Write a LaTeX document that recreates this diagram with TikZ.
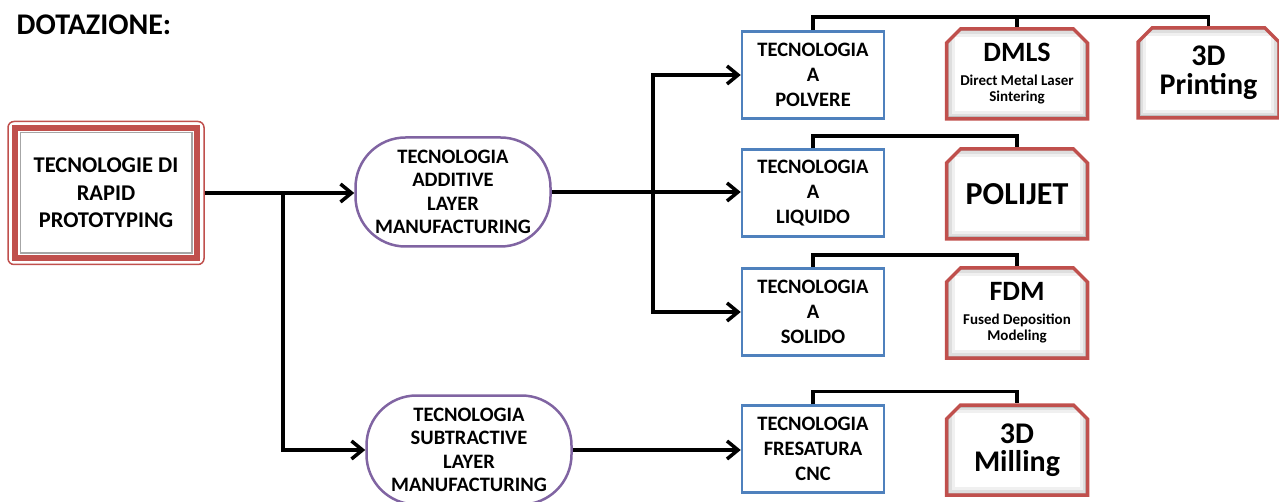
\documentclass[tikz,border=0pt]{standalone}
\usepackage{fontspec}
\setmainfont{Carlito}
\usetikzlibrary{arrows.meta, shapes.misc}
\definecolor{frameRed}{HTML}{C0504D}
\definecolor{frameBlue}{HTML}{4F81BD}
\definecolor{framePurple}{HTML}{8064A2}

\begin{document}
\begin{tikzpicture}[
    x=1pt, y=-1pt,
    every node/.style={font=\bfseries, align=center},
    rootbox/.style={draw=frameRed, line width=1.5pt, rounded corners=6pt, fill=white,
      minimum width=196pt, minimum height=143pt, inner sep=0pt,
      font=\bfseries\fontsize{22.5}{27.5}\selectfont},
    layerbox/.style={draw=framePurple, line width=2.5pt, fill=white, rounded corners=50pt,
      minimum width=195pt, minimum height=109pt, inner sep=0pt,
      font=\bfseries\fontsize{20.5}{23.5}\selectfont},
    techbox/.style={draw=frameBlue, line width=2.5pt, fill=white,
      minimum width=142pt, minimum height=87pt, inner sep=0pt,
      font=\bfseries\fontsize{20.5}{25}\selectfont},
    machbox/.style={chamfered rectangle, chamfered rectangle corners={north west, north east},
      chamfered rectangle xsep=7pt, chamfered rectangle ysep=7pt,
      draw=frameRed, line width=3.5pt, fill=white,
      minimum width=141pt, minimum height=90pt, inner sep=0pt,
      font=\bfseries\fontsize{15}{16}\selectfont,
      path picture={
        \foreach \w/\g in {16/6, 10/13, 5/25}
          \draw[black!\g, line width=\w pt] (path picture bounding box.north west)
            rectangle (path picture bounding box.south east);
      }},
    link/.style={line width=3.5pt},
    >={Straight Barb[length=11pt, width=18pt]}
  ]
  \useasboundingbox (0,0) rectangle (1279,502);

  % ── Title ───────────────────────────────────────────────────────────────
  \node[font=\bfseries\fontsize{30}{32}\selectfont] (title) at (94,25) {DOTAZIONE:};

  % ── Root ────────────────────────────────────────────────────────────────
  \node[rootbox] (root) at (106,193) {TECNOLOGIE DI\\RAPID\\PROTOTYPING};
  \draw[frameRed, line width=6pt] ([shift={(8,7)}]root.north west)
    rectangle ([shift={(-8,-7)}]root.south east);
  \draw[black!35, line width=1.5pt] ([shift={(13,12)}]root.north west)
    rectangle ([shift={(-13,-12)}]root.south east);

  % ── Layer technologies ──────────────────────────────────────────────────
  \node[layerbox] (alm) at (453,192) {TECNOLOGIA\\ADDITIVE\\LAYER\\MANUFACTURING};
  \node[layerbox, minimum width=205pt] (slm) at (469,450)
    {TECNOLOGIA\\SUBTRACTIVE\\LAYER\\MANUFACTURING};

  % ── Material families ───────────────────────────────────────────────────
  \node[techbox] (polvere)   at (813,75)  {TECNOLOGIA\\A\\POLVERE};
  \node[techbox] (liquido)   at (813,193) {TECNOLOGIA\\A\\LIQUIDO};
  \node[techbox] (solido)    at (813,312) {TECNOLOGIA\\A\\SOLIDO};
  \node[techbox] (fresatura) at (813,449) {TECNOLOGIA\\FRESATURA\\CNC};

  % ── Machines ────────────────────────────────────────────────────────────
  \node[machbox] (dmls) at (1017,74)
    {{\fontsize{28}{28}\selectfont DMLS}\\[8pt]Direct Metal Laser\\Sintering};
  \node[machbox, font=\bfseries\fontsize{30}{29}\selectfont] (printing) at (1208.5,73)
    {3D\\Printing};
  \node[machbox, font=\bfseries\fontsize{32}{32}\selectfont] (polijet) at (1017,194) {POLIJET};
  \node[machbox] (fdm) at (1017,313)
    {{\fontsize{28}{28}\selectfont FDM}\\[8pt]Fused Deposition\\Modeling};
  \node[machbox, font=\bfseries\fontsize{30}{28}\selectfont] (milling) at (1017,450)
    {3D\\Milling};

  % ── Arrows ──────────────────────────────────────────────────────────────
  \coordinate (fork1) at (283,193);
  \coordinate (fork2) at (653,193);
  \draw[link, ->] (root.east) -- (root.east -| alm.west);
  \draw[link, ->] (fork1) |- (slm.west);
  \draw[link, ->] (alm.east) -- (alm.east -| liquido.west);
  \draw[link, ->] (fork2) |- (polvere.west);
  \draw[link, ->] (fork2) |- (solido.west);
  \draw[link, ->] (slm.east) -- (slm.east -| fresatura.west);

  % ── Brackets to machines ────────────────────────────────────────────────
  \coordinate (topbar) at (0,17);
  \draw[link] (polvere.north) -- (polvere.north |- topbar) -| (printing.north);
  \draw[link] (dmls.north |- topbar) -- (dmls.north);
  \draw[link] (liquido.north) -- ++(0,-12) -| (polijet.north);
  \draw[link] (solido.north) -- ++(0,-12) -| (fdm.north);
  \draw[link] (fresatura.north) -- ++(0,-13) -| (milling.north);

\end{tikzpicture}
\end{document}
